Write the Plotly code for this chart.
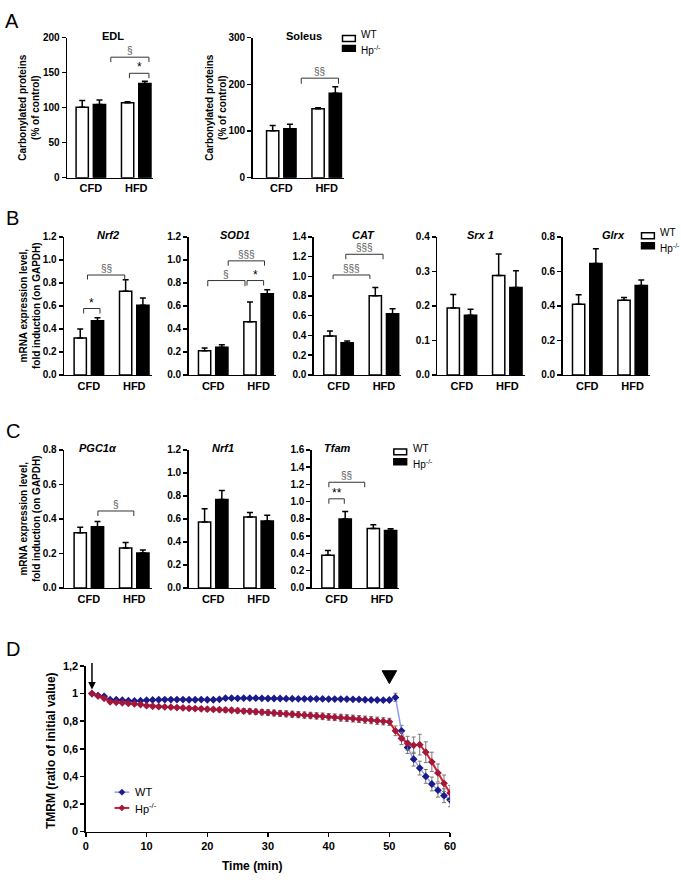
import plotly.graph_objects as go

W, H = 687, 883
FONT = "Arial, Liberation Sans, Helvetica, sans-serif"

# ---------------- data ----------------
groups = ["CFD", "HFD"]

EDL_wt = [100.5, 107.0]
EDL_wt_err = [9.5, 1.3]
EDL_hp = [104.5, 134.5]
EDL_hp_err = [6.5, 3.3]

Soleus_wt = [100.5, 147.5]
Soleus_wt_err = [11.0, 2.0]
Soleus_hp = [104.7, 180.5]
Soleus_hp_err = [9.8, 14.0]

Nrf2_wt = [0.32, 0.726]
Nrf2_wt_err = [0.078, 0.10]
Nrf2_hp = [0.471, 0.606]
Nrf2_hp_err = [0.026, 0.063]

SOD1_wt = [0.211, 0.463]
SOD1_wt_err = [0.023, 0.17]
SOD1_hp = [0.24, 0.706]
SOD1_hp_err = [0.023, 0.034]

CAT_wt = [0.395, 0.803]
CAT_wt_err = [0.05, 0.083]
CAT_hp = [0.325, 0.62]
CAT_hp_err = [0.02, 0.05]

Srx1_wt = [0.194, 0.288]
Srx1_wt_err = [0.039, 0.062]
Srx1_hp = [0.173, 0.253]
Srx1_hp_err = [0.017, 0.049]

Glrx_wt = [0.41, 0.432]
Glrx_wt_err = [0.055, 0.016]
Glrx_hp = [0.646, 0.518]
Glrx_hp_err = [0.085, 0.032]

PGC1a_wt = [0.32, 0.232]
PGC1a_wt_err = [0.032, 0.032]
PGC1a_hp = [0.354, 0.203]
PGC1a_hp_err = [0.031, 0.017]

Nrf1_wt = [0.574, 0.617]
Nrf1_wt_err = [0.115, 0.038]
Nrf1_hp = [0.769, 0.583]
Nrf1_hp_err = [0.078, 0.049]

Tfam_wt = [0.38, 0.69]
Tfam_wt_err = [0.055, 0.043]
Tfam_hp = [0.80, 0.665]
Tfam_hp_err = [0.085, 0.02]

# TMRM time course (panel D)
time_min = list(range(1, 61))
tmrm_wt = [1.000, 0.985, 0.980, 0.955, 0.955, 0.952, 0.948, 0.946, 0.948, 0.952,
           0.954, 0.955, 0.956, 0.956, 0.956, 0.956, 0.955, 0.955, 0.956, 0.955,
           0.955, 0.958, 0.966, 0.966, 0.965, 0.966, 0.966, 0.966, 0.965, 0.964,
           0.964, 0.964, 0.963, 0.963, 0.962, 0.962, 0.962, 0.962, 0.961, 0.960,
           0.960, 0.960, 0.959, 0.958, 0.957, 0.955, 0.954, 0.953, 0.952, 0.953,
           0.972, 0.730, 0.610, 0.525, 0.460, 0.400, 0.345, 0.300, 0.260, 0.230]
tmrm_wt_err = [0.0, 0.004, 0.006, 0.005, 0.005, 0.005, 0.005, 0.005, 0.005, 0.005,
               0.005, 0.005, 0.005, 0.005, 0.005, 0.005, 0.005, 0.005, 0.005, 0.005,
               0.005, 0.005, 0.005, 0.005, 0.005, 0.005, 0.005, 0.005, 0.005, 0.005,
               0.005, 0.005, 0.005, 0.005, 0.005, 0.005, 0.005, 0.005, 0.005, 0.005,
               0.006, 0.006, 0.006, 0.006, 0.006, 0.006, 0.006, 0.006, 0.006, 0.008,
               0.030, 0.040, 0.045, 0.050, 0.050, 0.050, 0.050, 0.050, 0.050, 0.050]
tmrm_hp = [1.000, 0.983, 0.965, 0.940, 0.936, 0.933, 0.928, 0.925, 0.920, 0.912,
           0.908, 0.905, 0.903, 0.901, 0.898, 0.896, 0.893, 0.891, 0.889, 0.887,
           0.885, 0.883, 0.881, 0.879, 0.876, 0.873, 0.871, 0.868, 0.865, 0.862,
           0.859, 0.856, 0.853, 0.850, 0.847, 0.844, 0.841, 0.838, 0.835, 0.831,
           0.828, 0.825, 0.822, 0.819, 0.815, 0.811, 0.807, 0.803, 0.799, 0.795,
           0.730, 0.675, 0.640, 0.625, 0.630, 0.575, 0.505, 0.425, 0.350, 0.280]
tmrm_hp_err = [0.0, 0.004, 0.005, 0.006, 0.006, 0.006, 0.007, 0.007, 0.008, 0.008,
               0.009, 0.010, 0.010, 0.011, 0.012, 0.012, 0.013, 0.014, 0.014, 0.015,
               0.016, 0.016, 0.017, 0.017, 0.018, 0.018, 0.019, 0.019, 0.020, 0.020,
               0.021, 0.021, 0.022, 0.022, 0.022, 0.023, 0.023, 0.023, 0.024, 0.024,
               0.024, 0.025, 0.025, 0.025, 0.025, 0.026, 0.026, 0.026, 0.026, 0.026,
               0.035, 0.045, 0.050, 0.060, 0.075, 0.075, 0.070, 0.065, 0.060, 0.055]
d_xticks = [0, 10, 20, 30, 40, 50, 60]
d_yticks = [0, 0.2, 0.4, 0.6, 0.8, 1.0, 1.2]
d_ytick_text = ["0", "0,2", "0,4", "0,6", "0,8", "1", "1,2"]

# ---------------- helpers ----------------
def fx(px):
    return px / W

def fy(py):
    return 1 - py / H

BAR_OFF = 0.19
BAR_W = 0.27
SP = 46.0
XR = 1.38

A_YT = "Carbonylated proteins<br>(% of control)"
B_YT = "mRNA expression level,<br>fold induction (on GAPDH)"

# title, italic, axis x px, cfd offset px, top px, bottom px, ymax, dtick, fmt, data..., title dx
panels = [
    ("EDL", False, 65, 24, 32, 174, 200, 50, "d", EDL_wt, EDL_wt_err, EDL_hp, EDL_hp_err, 3),
    ("Soleus", False, 253, 29, 32, 174, 300, 100, "d", Soleus_wt, Soleus_wt_err, Soleus_hp, Soleus_hp_err, 6),
    ("Nrf2", True, 62, 25, 234, 374, 1.2, 0.2, ".1f", Nrf2_wt, Nrf2_wt_err, Nrf2_hp, Nrf2_hp_err, 0),
    ("SOD1", True, 188, 25, 234, 374, 1.2, 0.2, ".1f", SOD1_wt, SOD1_wt_err, SOD1_hp, SOD1_hp_err, 3),
    ("CAT", True, 315, 25, 234, 374, 1.4, 0.2, ".1f", CAT_wt, CAT_wt_err, CAT_hp, CAT_hp_err, 6),
    ("Srx 1", True, 440, 25, 234, 374, 0.4, 0.1, ".1f", Srx1_wt, Srx1_wt_err, Srx1_hp, Srx1_hp_err, 0),
    ("Glrx", True, 567, 25, 234, 374, 0.8, 0.2, ".1f", Glrx_wt, Glrx_wt_err, Glrx_hp, Glrx_hp_err, 7),
    ("PGC1α", True, 62, 25, 450, 590, 0.8, 0.2, ".1f", PGC1a_wt, PGC1a_wt_err, PGC1a_hp, PGC1a_hp_err, -10),
    ("Nrf1", True, 188, 25, 450, 590, 1.2, 0.2, ".1f", Nrf1_wt, Nrf1_wt_err, Nrf1_hp, Nrf1_hp_err, -9),
    ("Tfam", True, 313, 25, 450, 590, 1.6, 0.2, ".1f", Tfam_wt, Tfam_wt_err, Tfam_hp, Tfam_hp_err, -18),
]

# significance brackets: panel index (1-based), x start, x end (group units), y, y of tick ends, label
brackets = [
    (1, 0.44, 1.28, 172, 165, "§"),
    (1, 0.85, 1.28, 149, 142, "*"),
    (2, 0.44, 1.26, 213, 201, "§§"),
    (3, -0.115, 0.245, 0.577, 0.534, "*"),
    (3, -0.03, 0.79, 0.868, 0.829, "§§"),
    (4, -0.12, 0.70, 0.82, 0.771, "§"),
    (4, 0.745, 1.11, 0.82, 0.777, "*"),
    (4, 0.33, 1.13, 0.991, 0.949, "§§§"),
    (5, -0.12, 0.69, 1.013, 0.973, "§§§"),
    (5, 0.16, 0.98, 1.223, 1.173, "§§§"),
    (8, 0.20, 0.99, 0.446, 0.417, "§"),
    (10, -0.17, 0.17, 1.033, 0.976, "**"),
    (10, -0.17, 0.62, 1.225, 1.167, "§§"),
]

fig = go.Figure()
layout = {}
annotations = []
shapes = []

def axnames(i):
    if i == 1:
        return "xaxis", "yaxis", "x", "y"
    return f"xaxis{i}", f"yaxis{i}", f"x{i}", f"y{i}"

for i, p in enumerate(panels, start=1):
    (title, italic, x0, off, top, bot, ymax, dtick, fmt,
     wt, wte, hp, hpe, tdx) = p
    xa, ya, xr, yr = axnames(i)
    left = -off / SP
    x1 = x0 + (XR - left) * SP
    layout[xa] = dict(domain=[fx(x0), fx(x1)], range=[left, XR], anchor=yr,
                      showline=True, linecolor="black", linewidth=1.5,
                      ticks="", tickvals=list(range(len(groups))), ticktext=groups,
                      tickfont=dict(size=11, family=FONT, color="black", weight="bold"),
                      showgrid=False, zeroline=False, fixedrange=True)
    layout[ya] = dict(domain=[fy(bot), fy(top)], range=[0, ymax], anchor=xr,
                      showline=True, linecolor="black", linewidth=1.5,
                      ticks="outside", ticklen=4, tickwidth=1.5, tickcolor="black",
                      tick0=0, dtick=dtick, tickformat=fmt,
                      tickfont=dict(size=10, family=FONT, color="black", weight="bold"),
                      showgrid=False, zeroline=False, fixedrange=True)
    gx = list(range(len(groups)))
    fig.add_trace(go.Bar(
        x=[g - BAR_OFF for g in gx], y=wt, width=BAR_W, name="WT",
        marker=dict(color="white", line=dict(color="black", width=1.5)),
        error_y=dict(type="data", symmetric=False, array=wte, arrayminus=[0] * len(wte),
                     color="black", thickness=1.5, width=3),
        xaxis=xr, yaxis=yr, showlegend=False, hoverinfo="skip"))
    fig.add_trace(go.Bar(
        x=[g + BAR_OFF for g in gx], y=hp, width=BAR_W, name="Hp-/-",
        marker=dict(color="black", line=dict(color="black", width=1.5)),
        error_y=dict(type="data", symmetric=False, array=hpe, arrayminus=[0] * len(hpe),
                     color="black", thickness=1.5, width=3),
        xaxis=xr, yaxis=yr, showlegend=False, hoverinfo="skip"))
    ttxt = f"<b><i>{title}</i></b>" if italic else f"<b>{title}</b>"
    annotations.append(dict(x=fx((x0 + x1) / 2 + tdx), y=fy(top - 2), xref="paper", yref="paper",
                            text=ttxt, showarrow=False, xanchor="center", yanchor="middle",
                            font=dict(size=11, family=FONT, color="black")))

for (pi, xa_, xb_, yb, yd, lab) in brackets:
    _, _, xr, yr = axnames(pi)
    shapes.append(dict(type="path", xref=xr, yref=yr,
                       path=f"M {xa_},{yd} L {xa_},{yb} L {xb_},{yb} L {xb_},{yd}",
                       line=dict(color="#333333", width=1)))
    star = "*" in lab
    annotations.append(dict(x=(xa_ + xb_) / 2, y=yb, xref=xr, yref=yr, text=lab,
                            showarrow=False, xanchor="center", yanchor="bottom",
                            yshift=-3 if star else -1,
                            font=dict(size=12 if star else 10, family=FONT,
                                      color="black" if star else "#555555")))

# y-axis titles
for (xp, yp, txt) in [(25.5, 103, A_YT), (215, 103, A_YT), (27.5, 304, B_YT), (27.5, 520, B_YT)]:
    annotations.append(dict(x=fx(xp), y=fy(yp), xref="paper", yref="paper", text=f"<b>{txt}</b>",
                            textangle=-90, showarrow=False, xanchor="center", yanchor="middle",
                            font=dict(size=10, family=FONT, color="black")))

# panel letters
for (lab, xp, yp) in [("A", 9, 15), ("B", 10, 215), ("C", 10, 431), ("D", 10, 652)]:
    annotations.append(dict(x=fx(xp), y=fy(yp), xref="paper", yref="paper", text=lab,
                            showarrow=False, xanchor="center", yanchor="middle",
                            font=dict(size=20, family=FONT, color="black")))

# legends for bar panels (boxes + text)
for (bx, by) in [(344, 33), (647, 233), (396, 452)]:
    shapes.append(dict(type="rect", xref="paper", yref="paper",
                       x0=fx(bx), x1=fx(bx + 13), y0=fy(by - 3), y1=fy(by + 3),
                       fillcolor="white", line=dict(color="black", width=1.5)))
    shapes.append(dict(type="rect", xref="paper", yref="paper",
                       x0=fx(bx), x1=fx(bx + 13), y0=fy(by + 7), y1=fy(by + 13),
                       fillcolor="black", line=dict(color="black", width=1.5)))
    annotations.append(dict(x=fx(bx + 17), y=fy(by + 4), xref="paper", yref="paper", text="WT",
                            showarrow=False, xanchor="left", yanchor="bottom",
                            font=dict(size=10, family=FONT, color="black")))
    annotations.append(dict(x=fx(bx + 17), y=fy(by + 4), xref="paper", yref="paper",
                            text="Hp<sup>-/-</sup>",
                            showarrow=False, xanchor="left", yanchor="top",
                            font=dict(size=10, family=FONT, color="black")))

# ---------------- panel D ----------------
di = 11
xa, ya, xr, yr = axnames(di)
layout[xa] = dict(domain=[fx(84), fx(453)], range=[0, 60], anchor=yr,
                  showline=True, linecolor="black", linewidth=1.5,
                  ticks="outside", ticklen=4, tickwidth=1.5, tickcolor="black",
                  tickvals=d_xticks,
                  tickfont=dict(size=11, family=FONT, color="black", weight="bold"),
                  showgrid=False, zeroline=False, fixedrange=True)
layout[ya] = dict(domain=[fy(837), fy(669)], range=[0, 1.2], anchor=xr,
                  showline=True, linecolor="black", linewidth=1.5,
                  ticks="outside", ticklen=4, tickwidth=1.5, tickcolor="black",
                  tickvals=d_yticks, ticktext=d_ytick_text,
                  tickfont=dict(size=11, family=FONT, color="black", weight="bold"),
                  showgrid=False, zeroline=False, fixedrange=True)

WT_LINE = "#8f9cf0"
WT_MARK = "#1a1a8a"
HP_LINE = "#d21f2b"
HP_MARK = "#a3173c"

fig.add_trace(go.Scatter(
    x=time_min, y=tmrm_wt, mode="lines+markers", name="WT",
    line=dict(color=WT_LINE, width=1.5),
    marker=dict(symbol="diamond", size=6, color=WT_MARK),
    error_y=dict(type="data", array=tmrm_wt_err, color="#777777", thickness=1, width=2),
    xaxis=xr, yaxis=yr, showlegend=False, hoverinfo="skip"))
fig.add_trace(go.Scatter(
    x=time_min, y=tmrm_hp, mode="lines+markers", name="Hp-/-",
    line=dict(color=HP_LINE, width=2),
    marker=dict(symbol="diamond", size=6, color=HP_MARK),
    error_y=dict(type="data", array=tmrm_hp_err, color="#777777", thickness=1, width=2),
    xaxis=xr, yaxis=yr, showlegend=False, hoverinfo="skip"))

# arrow at start and arrowhead marker at 50 min
annotations.append(dict(x=1, y=1.03, xref=xr, yref=yr, ax=0, ay=-28, text="",
                        showarrow=True, arrowhead=2, arrowsize=1, arrowwidth=1.5,
                        arrowcolor="black"))
shapes.append(dict(type="path", xref=xr, yref=yr,
                   path="M 48.8,1.165 L 51.2,1.165 L 50,1.072 Z",
                   fillcolor="black", line=dict(color="black", width=1)))

# D legend
for (ly, lc, mc, lw, txt) in [(797, WT_LINE, WT_MARK, 1.5, "WT"), (813, HP_LINE, HP_MARK, 2, "Hp<sup>-/-</sup>")]:
    shapes.append(dict(type="line", xref="paper", yref="paper",
                       x0=fx(113), x1=fx(128), y0=fy(ly), y1=fy(ly),
                       line=dict(color=lc, width=lw)))
    cx = 120.5
    shapes.append(dict(type="path", xref="paper", yref="paper",
                       path=f"M {fx(cx)},{fy(ly-3.2)} L {fx(cx+3.2)},{fy(ly)} L {fx(cx)},{fy(ly+3.2)} L {fx(cx-3.2)},{fy(ly)} Z",
                       fillcolor=mc, line=dict(color=mc, width=0.5)))
    annotations.append(dict(x=fx(132), y=fy(ly), xref="paper", yref="paper", text=txt,
                            showarrow=False, xanchor="left", yanchor="middle",
                            font=dict(size=11, family=FONT, color="black")))

annotations.append(dict(x=fx(252), y=fy(872), xref="paper", yref="paper",
                        text="<b>Time (min)</b>", showarrow=False,
                        xanchor="center", yanchor="middle",
                        font=dict(size=12, family=FONT, color="black")))
annotations.append(dict(x=fx(48), y=fy(755), xref="paper", yref="paper",
                        text="<b>TMRM (ratio of initial value)</b>", showarrow=False,
                        textangle=-90, xanchor="center", yanchor="middle",
                        font=dict(size=12, family=FONT, color="black")))

fig.update_layout(width=W, height=H, margin=dict(l=0, r=0, t=0, b=0),
                  paper_bgcolor="white", plot_bgcolor="white",
                  font=dict(family=FONT, color="black"),
                  showlegend=False, bargap=0, hovermode=False,
                  annotations=annotations, shapes=shapes, **layout)

fig.write_html("out.html",
               config={"displayModeBar": False, "staticPlot": True},
               post_script="document.body.style.margin='0';"
                           "document.documentElement.style.overflow='hidden';"
                           "document.body.style.overflow='hidden';")
